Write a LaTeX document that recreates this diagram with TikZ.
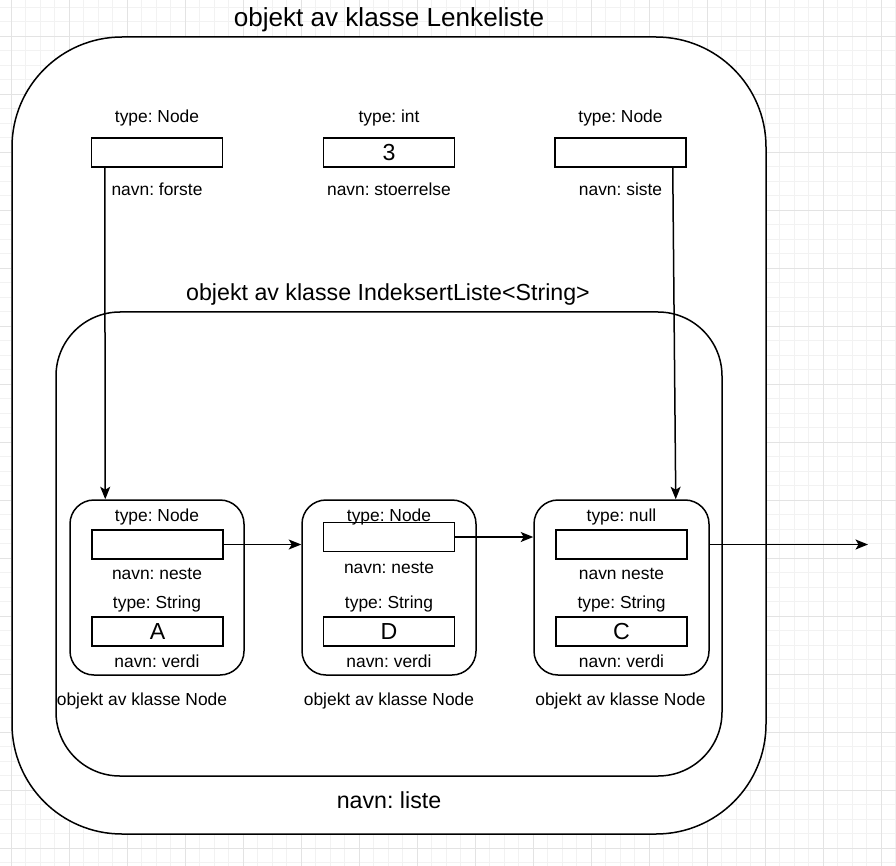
\documentclass[tikz,border=0pt]{standalone}
\usepackage{fontspec}
\setmainfont{Liberation Sans}
\usetikzlibrary{arrows.meta}
\frenchspacing
\begin{document}
\begin{tikzpicture}[x=1pt,y=-1pt,
  gridmin/.style={draw=black!5, line width=0.8pt},
  gridmaj/.style={draw=black!11, line width=0.9pt},
  frame/.style={draw, fill=white, line width=1.5pt, inner sep=0},
  field/.style={draw, fill=white, line width=1.5pt, minimum width=131pt, minimum height=29pt, inner sep=0, font=\fontsize{23.2}{26}\selectfont},
  lbl/.style={inner sep=0, font=\fontsize{17.4}{20}\selectfont, text height=15.75pt, text depth=3.69pt},
  lblbig/.style={inner sep=0, font=\fontsize{23.2}{26}\selectfont, text height=21pt, text depth=4.92pt},
  lblhuge/.style={inner sep=0, font=\fontsize{26.1}{30}\selectfont, text height=23.6pt, text depth=5.53pt},
  arr/.style={line width=1.5pt, -{Stealth[length=12.5pt,width=10pt,inset=3pt]}}
]
\useasboundingbox (0,0) rectangle (896,866);
\fill[white] (0,0) rectangle (896,866);
% background grid
\foreach \i in {0,...,62} {\draw[gridmin] ({-3.2+14.5*\i},0) -- ({-3.2+14.5*\i},866);}
\foreach \i in {0,...,60} {\draw[gridmin] (0,{7+14.5*\i}) -- (896,{7+14.5*\i});}
\foreach \i in {0,...,15} {\draw[gridmaj] ({11.3+58*\i},0) -- ({11.3+58*\i},866);}
\foreach \i in {0,...,14} {\draw[gridmaj] (0,{36+58*\i}) -- (896,{36+58*\i});}

% outer object Lenkeliste
\node[lblhuge] (t1) at (389,17) {objekt av klasse Lenkeliste};
\node[frame, rounded corners=110pt, minimum width=754pt, minimum height=797pt] (lenke) at (389,435.5) {};
\node[lblbig] (lnavn) at (389,800) {navn: liste};

% top fields
\node[lbl] (tf1) at (157,116) {type: Node};
\node[field] (forste) at (157,152.5) {};
\node[lbl] (nf1) at (157,189) {navn: forste};
\node[lbl] (tf2) at (389,116) {type: int};
\node[field] (stoer) at (389,152.5) {3};
\node[lbl] (nf2) at (389,189) {navn: stoerrelse};
\node[lbl] (tf3) at (620.5,116) {type: Node};
\node[field] (siste) at (620.5,152.5) {};
\node[lbl] (nf3) at (620.5,189) {navn: siste};

% inner object IndeksertListe
\node[lblbig] (t2) at (388,292) {objekt av klasse IndeksertListe<String>};
\node[frame, rounded corners=64pt, minimum width=666pt, minimum height=464pt] (liste) at (389,544) {};

% node 1
\node[frame, rounded corners=24pt, minimum width=174pt, minimum height=175pt] (n1) at (157,587.5) {};
\node[lbl] (n1t1) at (157,515) {type: Node};
\node[field] (n1f) at (157.5,544.5) {};
\node[lbl] (n1n1) at (157,573) {navn: neste};
\node[lbl] (n1t2) at (157,602.5) {type: String};
\node[field] (n1v) at (157.5,631.5) {A};
\node[lbl] (n1n2) at (157,661) {navn: verdi};
\node[lbl] (n1c) at (142,699) {objekt av klasse Node};

% node 2
\node[frame, rounded corners=24pt, minimum width=174pt, minimum height=175pt] (n2) at (389,587.5) {};
\node[field] (n2f) at (389,537) {};
\node[lbl] (n2t1) at (389,515) {type: Node};
\node[lbl] (n2n1) at (389,567) {navn: neste};
\node[lbl] (n2t2) at (389,602.5) {type: String};
\node[field] (n2v) at (389,631.5) {D};
\node[lbl] (n2n2) at (389,661) {navn: verdi};
\node[lbl] (n2c) at (389,699) {objekt av klasse Node};

% node 3
\node[frame, rounded corners=24pt, minimum width=175pt, minimum height=175pt] (n3) at (621.5,587.5) {};
\node[lbl] (n3t1) at (621.5,515) {type: null};
\node[field] (n3f) at (621.5,544.5) {};
\node[lbl] (n3n1) at (621.5,573) {navn neste};
\node[lbl] (n3t2) at (621.5,602.5) {type: String};
\node[field] (n3v) at (621.5,631.5) {C};
\node[lbl] (n3n2) at (621.5,661) {navn: verdi};
\node[lbl] (n3c) at (620.5,699) {objekt av klasse Node};

% connectors
\coordinate (ut) at (868,544.5);
\draw[arr] ([xshift=14pt]forste.south west) -- ([xshift=36pt]n1.north west);
\draw[arr] ([xshift=-14pt]siste.south east) -- ([xshift=-34pt]n3.north east);
\draw[arr] (n1f.east) -- (n1f.east -| n2.west);
\draw[arr] (n2f.east) -- (n2f.east -| n3.west);
\draw[arr] (n3f.east -| n3.east) -- (ut);
\end{tikzpicture}
\end{document}
